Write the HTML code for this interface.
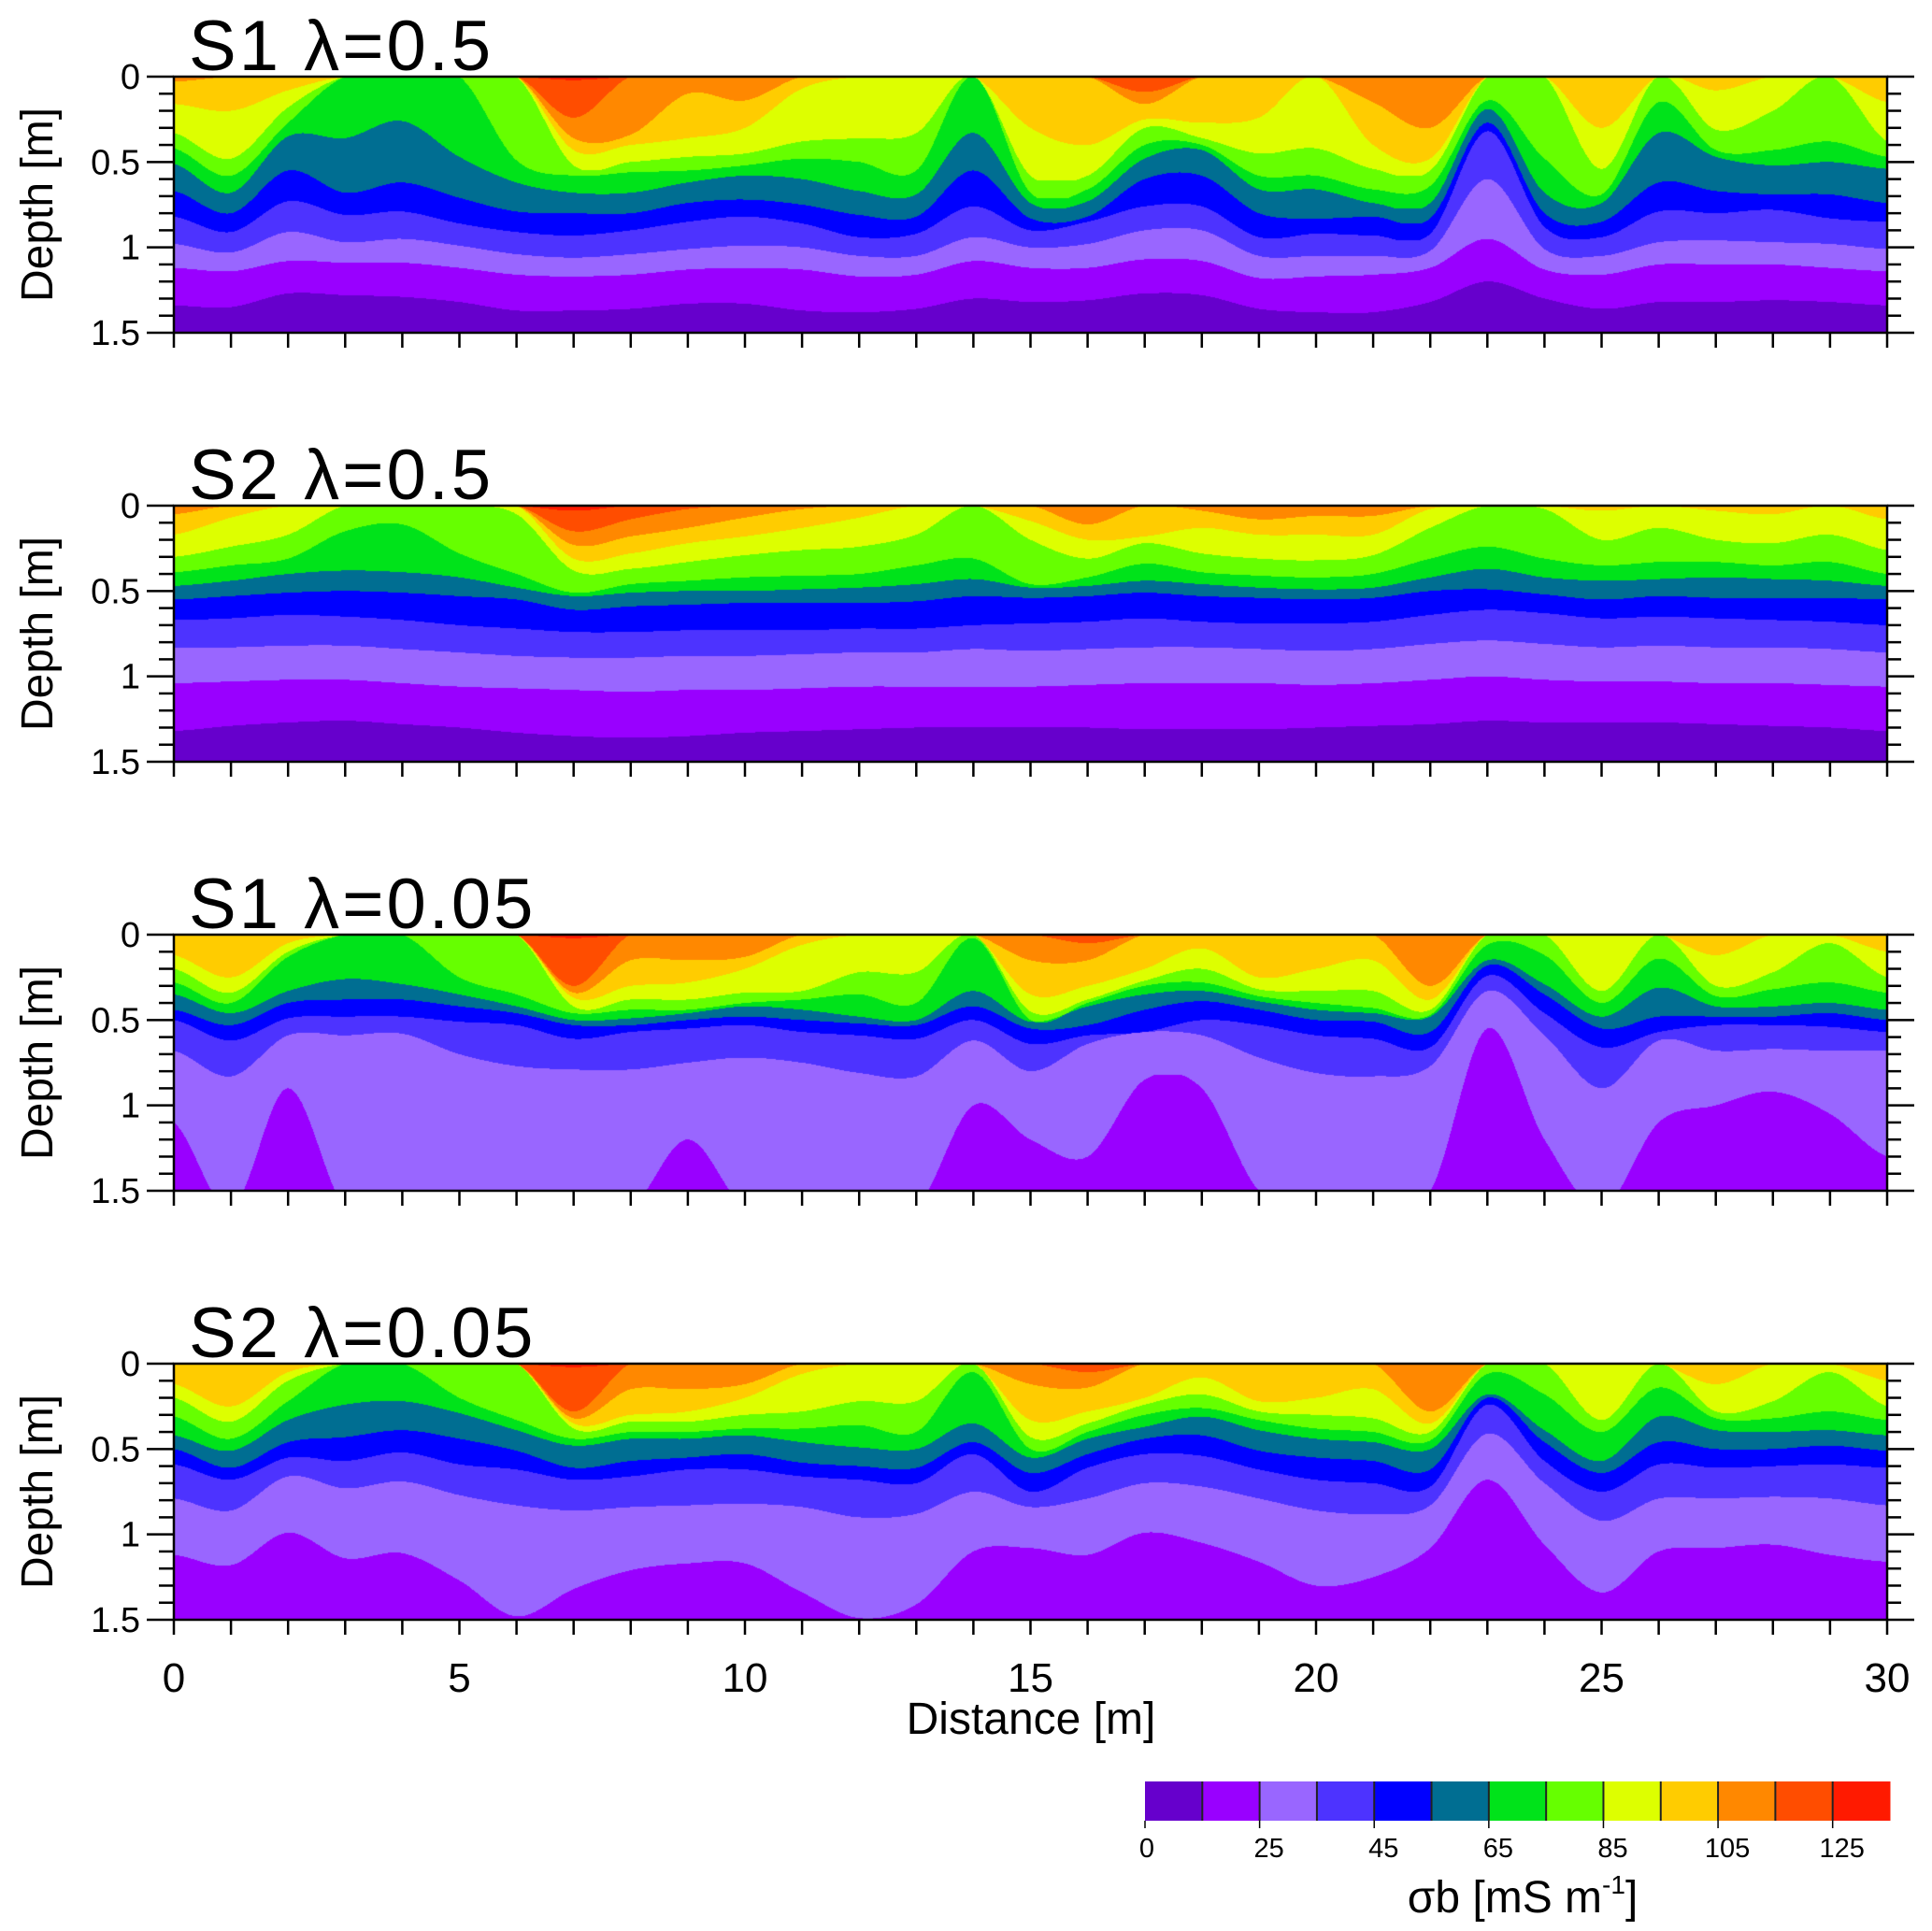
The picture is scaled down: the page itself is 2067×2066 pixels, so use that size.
<!DOCTYPE html>
<html><head><meta charset="utf-8">
<style>
html,body{margin:0;padding:0;background:#fff;}
#wrap{position:relative;width:2067px;height:2066px;overflow:hidden;font-family:"Liberation Sans",sans-serif;}
canvas{position:absolute;}
svg{position:absolute;left:0;top:0;}
</style></head>
<body>
<div id="wrap">
<canvas id="c0" width="1833" height="274" style="left:186px;top:82px"></canvas>
<canvas id="c1" width="1833" height="274" style="left:186px;top:541px"></canvas>
<canvas id="c2" width="1833" height="274" style="left:186px;top:1000px"></canvas>
<canvas id="c3" width="1833" height="274" style="left:186px;top:1459px"></canvas>
<svg id="ax" width="2067" height="2066"></svg>
</div>
<script>
// ---- data ----
const distances = [0,1,2,3,4,5,6,7,8,9,10,11,12,13,14,15,16,17,18,19,20,21,22,23,24,25,26,27,28,29,30];
const levelLabels = ["0","25","45","65","85","105","125"];
const binColors = ['#6600CC','#9900FF','#9966FF','#4D33FF','#0000FF','#006E92','#00E31A','#66FF00','#DDFF00','#FFCC00','#FF8800','#FF4D00','#FF1A00'];
const panelTitles = ["S1 \u03bb=0.5","S2 \u03bb=0.5","S1 \u03bb=0.05","S2 \u03bb=0.05"];
const depthTicks = ["0","0.5","1","1.5"];
const distTicks = ["0","5","10","15","20","25","30"];
// boundary depths (m): bottom of bin k, sampled at distances
const p1_b1=[1.34,1.35,1.27,1.28,1.29,1.32,1.37,1.37,1.36,1.33,1.33,1.37,1.38,1.36,1.30,1.32,1.31,1.27,1.28,1.36,1.38,1.38,1.32,1.20,1.30,1.36,1.32,1.32,1.31,1.32,1.34];
const p1_b2=[1.12,1.14,1.08,1.09,1.09,1.12,1.16,1.17,1.16,1.13,1.12,1.13,1.17,1.16,1.08,1.12,1.12,1.07,1.08,1.18,1.17,1.16,1.12,.95,1.13,1.16,1.10,1.10,1.10,1.12,1.14];
const p1_b3=[.98,1.03,.91,.97,.95,.99,1.04,1.06,1.04,1.01,.99,1.00,1.05,1.05,.94,1.00,.98,.90,.90,1.05,1.05,1.05,1.02,.60,1.01,1.05,.97,.96,.97,.98,1.01];
const p1_b4=[.82,.91,.73,.81,.79,.86,.91,.93,.90,.85,.82,.86,.94,.92,.76,.90,.85,.76,.76,.94,.92,.93,.92,.32,.88,.94,.79,.80,.78,.83,.85];
const p1_b5=[.67,.80,.55,.68,.62,.71,.79,.80,.80,.74,.72,.75,.81,.82,.55,.83,.82,.60,.58,.80,.83,.82,.83,.27,.80,.85,.62,.67,.69,.69,.74];
const p1_b6=[.51,.68,.35,.36,.26,.47,.62,.68,.68,.62,.58,.60,.67,.69,.33,.74,.73,.48,.43,.66,.66,.74,.74,.19,.68,.74,.33,.47,.52,.50,.54];
const p1_b7=[.42,.58,.27,0,0,0,.49,.58,.56,.55,.52,.48,.50,.55,0,.68,.66,.40,.40,.58,.58,.66,.64,.14,.48,.69,.15,.43,.43,.38,.47];
const p1_b8=[.33,.48,.18,0,0,0,0,.52,.50,.47,.45,.38,.36,.33,0,.58,.58,.30,.36,.45,.42,.54,.55,0,0,.54,0,.31,.20,0,.38];
const p1_b9=[.16,.20,.08,0,0,0,0,.43,.40,.36,.30,.07,0,0,0,.30,.40,.25,.27,.24,0,.40,.48,0,0,.30,0,.08,0,0,.15];
const p1_b10=[.03,0,0,0,0,0,0,.36,.34,.10,.14,0,0,0,0,0,0,.16,0,0,0,.15,.30,0,0,0,0,0,0,0,0];
const p1_b11=[0,0,0,0,0,0,0,.24,0,0,0,0,0,0,0,0,0,.09,0,0,0,0,0,0,0,0,0,0,0,0,0];
const p1_b12=[0,0,0,0,0,0,0,.02,0,0,0,0,0,0,0,0,0,0,0,0,0,0,0,0,0,0,0,0,0,0,0];
const p2_b1=[1.32,1.29,1.27,1.26,1.28,1.30,1.33,1.35,1.36,1.35,1.33,1.32,1.31,1.30,1.30,1.30,1.30,1.31,1.31,1.31,1.30,1.29,1.28,1.26,1.27,1.27,1.27,1.28,1.29,1.30,1.32];
const p2_b2=[1.04,1.03,1.02,1.02,1.04,1.06,1.07,1.08,1.09,1.08,1.08,1.07,1.06,1.06,1.06,1.06,1.05,1.04,1.04,1.04,1.05,1.04,1.02,1.00,1.02,1.03,1.03,1.04,1.04,1.05,1.06];
const p2_b3=[.83,.83,.82,.82,.84,.86,.88,.89,.89,.88,.88,.87,.86,.86,.84,.85,.84,.83,.83,.84,.85,.84,.81,.79,.81,.83,.82,.83,.83,.84,.86];
const p2_b4=[.67,.66,.64,.65,.67,.70,.72,.74,.74,.73,.73,.73,.72,.72,.70,.69,.68,.66,.68,.69,.69,.68,.64,.61,.63,.66,.65,.66,.67,.68,.70];
const p2_b5=[.55,.53,.51,.50,.51,.53,.55,.61,.59,.58,.57,.57,.57,.56,.53,.54,.53,.51,.53,.54,.55,.54,.50,.49,.52,.55,.53,.54,.54,.54,.55];
const p2_b6=[.47,.44,.40,.38,.39,.42,.48,.53,.51,.50,.50,.49,.48,.46,.43,.48,.47,.44,.46,.48,.49,.48,.42,.37,.42,.44,.43,.42,.43,.44,.47];
const p2_b7=[.39,.35,.31,.15,.11,.28,.40,.51,.46,.44,.42,.41,.40,.35,.31,.46,.42,.34,.39,.41,.42,.40,.31,.24,.31,.35,.33,.33,.35,.33,.40];
const p2_b8=[.30,.24,.17,0,0,0,.05,.38,.37,.33,.29,.26,.24,.17,0,.20,.31,.22,.28,.31,.32,.29,.13,0,.02,.20,.13,.20,.22,.17,.26];
const p2_b9=[.17,.07,0,0,0,0,0,.31,.28,.22,.18,.13,.07,0,0,.09,.20,.18,.13,.17,.17,.17,.02,0,0,.03,0,.03,.05,0,.08];
const p2_b10=[.05,0,0,0,0,0,0,.23,.18,.13,.07,.02,0,0,0,0,.11,0,.03,.08,.06,.06,0,0,0,0,0,0,0,0,0];
const p2_b11=[0,0,0,0,0,0,0,.15,.08,.02,0,0,0,0,0,0,0,0,0,0,0,0,0,0,0,0,0,0,0,0,0];
const p2_b12=[0,0,0,0,0,0,0,.03,0,0,0,0,0,0,0,0,0,0,0,0,0,0,0,0,0,0,0,0,0,0,0];
const p3_b1=[1.6,1.6,1.6,1.6,1.6,1.6,1.6,1.6,1.6,1.6,1.6,1.6,1.6,1.6,1.6,1.6,1.6,1.6,1.6,1.6,1.6,1.6,1.6,1.6,1.6,1.6,1.6,1.6,1.6,1.6,1.6];
const p3_b2=[1.1,1.6,.9,1.6,1.6,1.6,1.6,1.6,1.6,1.2,1.6,1.6,1.6,1.6,1.0,1.2,1.3,.85,.9,1.5,1.6,1.6,1.5,.55,1.2,1.6,1.1,1.0,.92,1.05,1.3];
const p3_b3=[.68,.83,.59,.59,.58,.70,.77,.79,.79,.75,.72,.75,.81,.83,.62,.80,.64,.57,.59,.72,.81,.83,.77,.33,.59,.90,.62,.68,.67,.68,.68];
const p3_b4=[.50,.62,.49,.48,.48,.51,.53,.61,.57,.55,.53,.57,.59,.61,.50,.64,.59,.57,.50,.53,.59,.61,.66,.24,.46,.66,.57,.53,.53,.54,.57];
const p3_b5=[.44,.53,.40,.38,.38,.42,.46,.53,.53,.50,.48,.50,.52,.53,.42,.55,.53,.44,.39,.44,.50,.51,.57,.18,.35,.55,.48,.48,.48,.46,.50];
const p3_b6=[.35,.46,.33,.26,.29,.35,.42,.50,.49,.46,.42,.44,.48,.50,.33,.51,.42,.35,.33,.39,.44,.46,.48,.15,.29,.48,.31,.42,.42,.40,.44];
const p3_b7=[.28,.40,.13,0,0,.25,.35,.46,.44,.44,.40,.38,.35,.40,.02,.50,.40,.30,.28,.36,.40,.43,.47,.06,.12,.40,.14,.36,.32,.28,.34];
const p3_b8=[.20,.34,.10,0,0,0,0,.42,.38,.38,.34,.33,.22,.22,0,.45,.38,.27,.20,.32,.33,.33,.44,0,0,.33,0,.30,.22,.05,.25];
const p3_b9=[.12,.25,.05,0,0,0,0,.37,.30,.28,.20,.06,0,0,0,.35,.30,.20,.08,.25,.20,.15,.38,0,0,0,0,.12,0,0,.10];
const p3_b10=[0,0,0,0,0,0,0,.34,.15,.15,.13,0,0,0,0,.15,.15,0,0,0,0,0,.30,0,0,0,0,0,0,0,0];
const p3_b11=[0,0,0,0,0,0,0,.30,0,0,0,0,0,0,0,0,.05,0,0,0,0,0,0,0,0,0,0,0,0,0,0];
const p3_b12=[0,0,0,0,0,0,0,.02,0,0,0,0,0,0,0,0,0,0,0,0,0,0,0,0,0,0,0,0,0,0,0];
const p4_b1=[1.6,1.6,1.6,1.6,1.6,1.6,1.6,1.6,1.6,1.6,1.6,1.6,1.6,1.6,1.6,1.6,1.6,1.6,1.6,1.6,1.6,1.6,1.6,1.6,1.6,1.6,1.6,1.6,1.6,1.6,1.6];
const p4_b2=[1.12,1.18,.99,1.14,1.11,1.27,1.48,1.32,1.21,1.17,1.17,1.34,1.49,1.41,1.10,1.08,1.12,.99,1.05,1.16,1.30,1.25,1.08,.68,1.06,1.34,1.10,1.08,1.06,1.12,1.16];
const p4_b3=[.79,.86,.66,.73,.69,.77,.83,.86,.84,.83,.82,.84,.90,.88,.75,.84,.79,.70,.72,.79,.86,.88,.83,.41,.70,.92,.79,.79,.78,.79,.83];
const p4_b4=[.59,.68,.55,.57,.52,.59,.62,.68,.66,.62,.62,.66,.68,.70,.53,.75,.61,.53,.54,.62,.68,.70,.72,.24,.57,.75,.59,.61,.60,.59,.61];
const p4_b5=[.50,.61,.46,.43,.39,.44,.51,.61,.57,.55,.53,.58,.60,.61,.46,.64,.53,.44,.42,.51,.55,.57,.62,.20,.46,.64,.46,.50,.50,.48,.51];
const p4_b6=[.42,.51,.33,.24,.22,.29,.39,.48,.44,.44,.42,.46,.49,.50,.35,.55,.44,.37,.31,.39,.44,.46,.50,.18,.39,.57,.31,.39,.40,.39,.42];
const p4_b7=[.31,.44,.22,0,0,.20,.33,.44,.40,.40,.38,.38,.36,.40,.05,.50,.40,.30,.26,.33,.38,.40,.45,.06,.18,.40,.14,.32,.32,.28,.33];
const p4_b8=[.20,.34,.10,0,0,0,0,.38,.34,.34,.30,.28,.22,.22,0,.43,.35,.24,.18,.28,.30,.32,.40,0,0,.33,0,.28,.22,.05,.25];
const p4_b9=[.12,.25,.05,0,0,0,0,.35,.30,.28,.20,.06,0,0,0,.33,.28,.20,.08,.22,.20,.15,.35,0,0,0,0,.12,0,0,.10];
const p4_b10=[0,0,0,0,0,0,0,.32,.15,.15,.12,0,0,0,0,.12,.14,0,0,0,0,0,.28,0,0,0,0,0,0,0,0];
const p4_b11=[0,0,0,0,0,0,0,.28,0,0,0,0,0,0,0,0,.05,0,0,0,0,0,0,0,0,0,0,0,0,0,0];
const p4_b12=[0,0,0,0,0,0,0,.02,0,0,0,0,0,0,0,0,0,0,0,0,0,0,0,0,0,0,0,0,0,0,0];

const panels=[
 [p1_b1,p1_b2,p1_b3,p1_b4,p1_b5,p1_b6,p1_b7,p1_b8,p1_b9,p1_b10,p1_b11,p1_b12],
 [p2_b1,p2_b2,p2_b3,p2_b4,p2_b5,p2_b6,p2_b7,p2_b8,p2_b9,p2_b10,p2_b11,p2_b12],
 [p3_b1,p3_b2,p3_b3,p3_b4,p3_b5,p3_b6,p3_b7,p3_b8,p3_b9,p3_b10,p3_b11,p3_b12],
 [p4_b1,p4_b2,p4_b3,p4_b4,p4_b5,p4_b6,p4_b7,p4_b8,p4_b9,p4_b10,p4_b11,p4_b12]];

// ---- layout ----
const X0=186, X1=2019, PH=274, TOPS=[82,541,1000,1459], XMAX=30, ZMAX=1.5;
const xScale = d => X0 + d/XMAX*(X1-X0);
const zScale = (z,top) => top + z/ZMAX*PH;

function hex(c){return [parseInt(c.slice(1,3),16),parseInt(c.slice(3,5),16),parseInt(c.slice(5,7),16)];}
const rgb = binColors.map(hex);

function interp(arr, d){
  const n=distances.length, step = distances[1]-distances[0];
  let i=Math.floor((d-distances[0])/step); if(i<0)i=0; if(i>n-2)i=n-2;
  const t=(d-distances[i])/step;
  const p0=arr[Math.max(i-1,0)], p1=arr[i], p2=arr[i+1], p3=arr[Math.min(i+2,n-1)];
  const t2=t*t, t3=t2*t;
  let v=0.5*((2*p1)+(-p0+p2)*t+(2*p0-5*p1+4*p2-p3)*t2+(-p0+3*p1-3*p2+p3)*t3);
  const lo=Math.min(p1,p2), hi=Math.max(p1,p2);
  if(v<lo-0.03)v=lo-0.03; if(v>hi+0.03)v=hi+0.03;
  return Math.max(v,0);
}

panels.forEach((B,pi)=>{
  const cv=document.getElementById('c'+pi);
  const ctx=cv.getContext('2d');
  const W=cv.width,H=cv.height;
  const img=ctx.createImageData(W,H);
  for(let px=0;px<W;px++){
    const d=(px+0.5)/W*XMAX;
    const bd=B.map(a=>interp(a,d));
    for(let py=0;py<H;py++){
      const z=(py+0.5)/H*ZMAX;
      let bin=0; for(let k=0;k<bd.length;k++){ if(bd[k]>z) bin++; }
      const c=rgb[Math.min(bin,12)];
      const o=(py*W+px)*4;
      img.data[o]=c[0];img.data[o+1]=c[1];img.data[o+2]=c[2];img.data[o+3]=255;
    }
  }
  ctx.putImageData(img,0,0);
});

// ---- axes ----
const svg=document.getElementById('ax');
const NS='http://www.w3.org/2000/svg';
function el(tag,attrs,parent){const e=document.createElementNS(NS,tag);for(const k in attrs)e.setAttribute(k,attrs[k]);(parent||svg).appendChild(e);return e;}

TOPS.forEach((top,pi)=>{
  const g=el('g',{});
  
  
  const fr=el('rect',{x:X0,y:top,width:X1-X0,height:PH,fill:'none',stroke:'#000','stroke-width':2.5},g);
  
  
  for(let i=0;i<=15;i++){
    const y=zScale(i*0.1,top), major=i%5===0;
    el('line',{x1:X0-(major?29:16),x2:X0,y1:y,y2:y,stroke:'#000','stroke-width':2.5},g);
    el('line',{x1:X1,x2:X1+(major?29:15),y1:y,y2:y,stroke:'#000','stroke-width':2.5},g);
  }
  for(let i=0;i<=30;i++){
    const x=xScale(i);
    el('line',{x1:x,x2:x,y1:top+PH,y2:top+PH+16,stroke:'#000','stroke-width':2.5},g);
  }
  depthTicks.forEach((t,i)=>{
    const tx=el('text',{x:150,y:zScale(i*0.5,top)+13,'text-anchor':'end','font-size':38},g);
    tx.textContent=t;
    
    
  });
  const yl=el('text',{x:0,y:0,'text-anchor':'middle','font-size':48,transform:`translate(56,${top+PH/2}) rotate(-90)`},g);
  yl.textContent='Depth [m]';
  
  
  const tt=el('text',{x:202,y:top-7,'font-size':76,'letter-spacing':3},g);
  tt.textContent=panelTitles[pi];
  
  
});
distTicks.forEach((t,i)=>{
  const tx=el('text',{x:xScale(i*5),y:1810,'text-anchor':'middle','font-size':44});
  tx.textContent=t;
  
  
});
const xl=el('text',{x:1103,y:1855,'text-anchor':'middle','font-size':48});
xl.textContent='Distance [m]';



// ---- colorbar ----
const CB0=1225, CB1=2022, CBY=1906, CBH=42;
const cw=(CB1-CB0)/binColors.length;
const cbg=el('g',{});


binColors.forEach((c,i)=>{
  const r=el('rect',{x:CB0+i*cw,y:CBY,width:cw+0.5,height:CBH,fill:c},cbg);
  
  
  if(i>0) el('line',{x1:CB0+i*cw,x2:CB0+i*cw,y1:CBY,y2:CBY+CBH,stroke:'#222','stroke-width':2},cbg);
});
levelLabels.forEach((t,i)=>{
  const x=CB0+i*2*cw;
  el('line',{x1:x,x2:x,y1:CBY+CBH,y2:CBY+CBH+8,stroke:'#000','stroke-width':1.5},cbg);
  const tx=el('text',{x:x+(i===0?2:10),y:1987,'text-anchor':'middle','font-size':29},cbg);
  tx.textContent=t;
  
  
});
const ct=el('text',{x:1629,y:2046,'text-anchor':'middle','font-size':48},cbg);
ct.innerHTML='\u03c3b [mS m<tspan dy="-20" font-size="28">-1</tspan><tspan dy="20">]</tspan>';


</script>
</body></html>
